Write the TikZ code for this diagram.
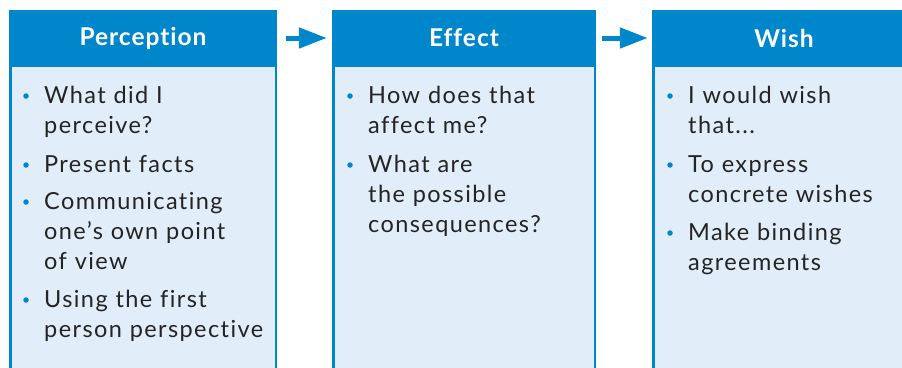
\documentclass[tikz,border=0pt]{standalone}
\usepackage{fontspec}
\setsansfont{Lato}
\newfontfamily\bodyfont[LetterSpace=6, Ligatures=NoCommon]{Lato}
\newfontfamily\headfont[LetterSpace=4, Ligatures=NoCommon]{Lato Bold}
\usepackage{xcolor}
\usepackage{tikz}
\usetikzlibrary{positioning, arrows.meta, calc}
\definecolor{fb-blue}{HTML}{0086CB}
\definecolor{fb-light}{HTML}{E1EDF8}
\definecolor{fb-dark}{HTML}{242424}

\begin{document}
\begin{tikzpicture}[
    x=1pt, y=-1pt,
    head/.style={fill=fb-blue, text=white, minimum height=56pt, inner sep=0pt,
                 font=\headfont\fontsize{24.5}{30}\selectfont},
    panel/.style={draw=fb-blue, line width=2.5pt, fill=fb-light, minimum height=330pt,
                  inner sep=0pt, anchor=north},
    item/.style={anchor=base west, inner sep=0pt, text width=250pt, align=left,
                 text=fb-dark, font=\bodyfont\fontsize{23.5}{30}\selectfont},
    dot/.style={circle, fill=fb-blue, inner sep=0pt, minimum size=5.5pt},
    flow/.style={-{Triangle[length=28pt, width=20pt]}, line width=5pt, fb-blue},
]
    \clip (0,0) rectangle (902,367);

    % Headers
    \node[head, minimum width=268pt] (perc) at (143,38)  {Perception};
    \node[head, minimum width=264pt] (eff)  at (464,38)  {Effect};
    \node[head, minimum width=264pt] (wish) at (784,38)  {Wish};

    % Panels below the headers
    \node[panel, minimum width=265.5pt] (percbody) at ($(perc.south)+(0,-1.25)$) {};
    \node[panel, minimum width=261.5pt] (effbody)  at ($(eff.south)+(0,-1.25)$)  {};
    \node[panel, minimum width=261.5pt] (wishbody) at ($(wish.south)+(0,-1.25)$) {};

    % Flow arrows
    \draw[flow, shorten <=9pt, shorten >=5pt] (perc.east) -- (eff.west);
    \draw[flow, shorten <=6pt, shorten >=4pt] (eff.east) -- (wish.west);

    % Perception items
    \node[item] (p1) at (44,103) {What did I\\perceive?};
    \node[item] (p2) at (44,172) {Present facts};
    \node[item] (p3) at (44,209) {Communicating\\one’s own point\\of view};
    \node[item] (p4) at (44,307) {Using the first\\person perspective};

    % Effect items
    \node[item] (e1) at (368,103) {How does that\\affect me?};
    \node[item] (e2) at (368,172) {What are\\the possible\\consequences?};

    % Wish items
    \node[item] (w1) at (688,103) {I would wish\\that...};
    \node[item] (w2) at (688,172) {To express\\concrete wishes};
    \node[item] (w3) at (688,240) {Make binding\\agreements};

    % Bullets
    \foreach \n in {p1, p2, p3, p4, e1, e2, w1, w2, w3}
        \node[dot] (\n dot) at ($(\n.base west)+(-18,-7)$) {};
\end{tikzpicture}
\end{document}
